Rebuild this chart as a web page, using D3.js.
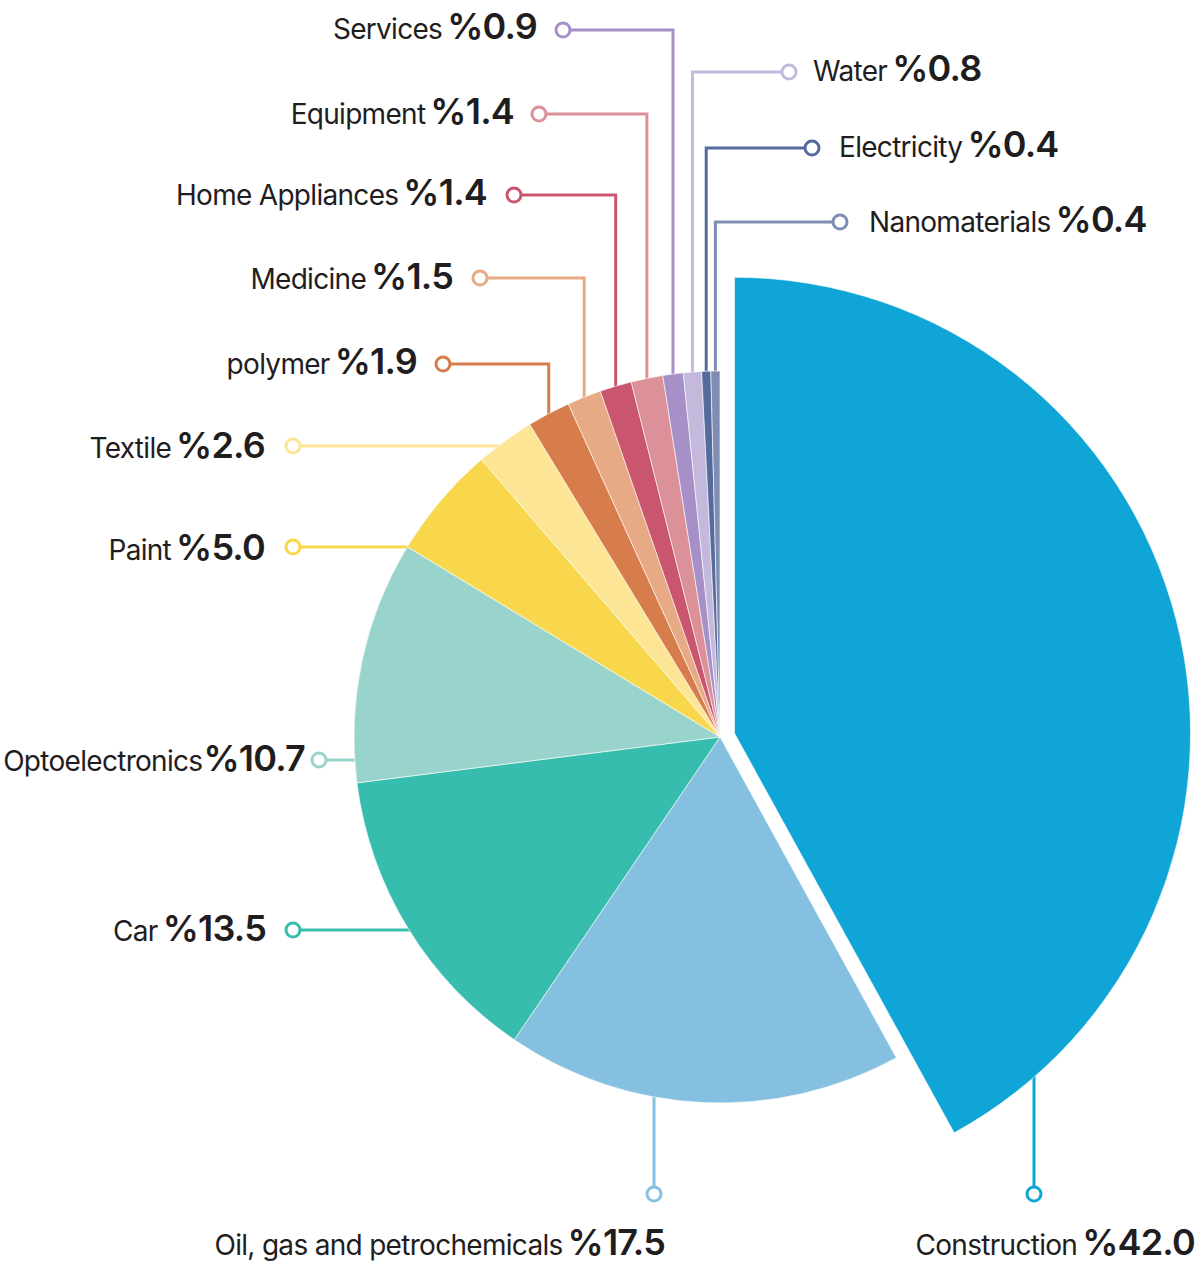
<!DOCTYPE html>
<html>
<head>
<meta charset="utf-8">
<script src="https://cdn.jsdelivr.net/npm/d3@7"></script>
<style>
  body { margin: 0; background: #fff; }
  svg { display: block; }
</style>
</head>
<body>
<div id="chart"></div>
<script>
  // Shares of each sector, clockwise from 12 o'clock
  var categories = ["Construction", "Oil, gas and petrochemicals", "Car", "Optoelectronics", "Paint",
    "Textile", "polymer", "Medicine", "Home Appliances", "Equipment", "Services", "Water",
    "Electricity", "Nanomaterials"];
  var values = [42.0, 17.5, 13.5, 10.7, 5.0, 2.6, 1.9, 1.5, 1.4, 1.4, 0.9, 0.8, 0.4, 0.4];
  var colors = ["#0fa5d6", "#86c0e1", "#37bdad", "#98d4cb", "#f9d74c", "#fce595", "#d67d4b",
    "#e8aa84", "#c9566e", "#dc9199", "#a690c7", "#c4b9dc", "#556b9e", "#808db3"];

  // Label placement: circle marker, text anchor, and how the leader reaches the pie
  // kind: "elbow" = across then down to slice middle, "h" = straight across, "v" = straight up
  var labelLayout = [
    { cx: 1034, cy: 1194, tx: 1195, ty: 1255, anchor: "end", kind: "v", gap: 5 },
    { cx: 654, cy: 1194, tx: 665, ty: 1255, anchor: "end", kind: "v", gap: 5 },
    { cx: 293, cy: 930, tx: 266, ty: 941, anchor: "end", kind: "h", gap: 5 },
    { cx: 319, cy: 760, tx: 305, ty: 771, anchor: "end", kind: "h", gap: 1 },
    { cx: 293, cy: 547, tx: 265, ty: 560, anchor: "end", kind: "h", gap: 5 },
    { cx: 293, cy: 446, tx: 265, ty: 458, anchor: "end", kind: "h", gap: 5 },
    { cx: 443, cy: 364, tx: 417, ty: 374, anchor: "end", kind: "elbow", gap: 5 },
    { cx: 480, cy: 278, tx: 453, ty: 289, anchor: "end", kind: "elbow", gap: 5 },
    { cx: 514, cy: 195, tx: 487, ty: 205, anchor: "end", kind: "elbow", gap: 5 },
    { cx: 539, cy: 114, tx: 514, ty: 124, anchor: "end", kind: "elbow", gap: 5 },
    { cx: 563, cy: 30, tx: 537, ty: 39, anchor: "end", kind: "elbow", gap: 5 },
    { cx: 789, cy: 72, tx: 813, ty: 81, anchor: "start", kind: "elbow", gap: 5 },
    { cx: 812, cy: 148, tx: 839, ty: 157, anchor: "start", kind: "elbow", gap: 5 },
    { cx: 840, cy: 222, tx: 869, ty: 232, anchor: "start", kind: "elbow", gap: 5 }
  ];

  var width = 1204;
  var height = 1264;
  var cx = 720, cy = 737;
  var radius = 366;
  var bigRadius = 456;   // exploded construction slice is drawn larger
  var explode = 15;

  var svg = d3.select("#chart")
    .append("svg")
    .attr("width", width)
    .attr("height", height);

  var pie = d3.pie().sort(null).value(function(d) { return d; });
  var arcs = pie(values);

  var arc = d3.arc().innerRadius(0).outerRadius(function(d, i) {
    return i === 0 ? bigRadius : radius;
  });

  function offset(d, i) {
    if (i !== 0) return [0, 0];
    var a = (d.startAngle + d.endAngle) / 2;
    return [explode * Math.sin(a), -explode * Math.cos(a)];
  }

  // leader lines (drawn under the pie so they tuck into the slices)
  var leaders = svg.append("g");
  arcs.forEach(function(d, i) {
    var L = labelLayout[i];
    var pts;
    var off = offset(d, i);
    var r = i === 0 ? bigRadius : radius;
    var px = cx + off[0], py = cy + off[1];
    if (L.kind === "v") {
      var dy = Math.sqrt(r * r - (L.cx - px) * (L.cx - px));
      pts = [[L.cx, L.cy], [L.cx, py + dy - 3]];
    } else if (L.kind === "h") {
      var dx = Math.sqrt(r * r - (L.cy - py) * (L.cy - py));
      pts = [[L.cx, L.cy], [px - dx + 3, L.cy]];
    } else {
      var mid = (d.startAngle + d.endAngle) / 2;
      var ex = px + r * Math.sin(mid);
      var ey = py - r * Math.cos(mid);
      pts = [[L.cx, L.cy], [ex, L.cy], [ex, ey + 3]];
    }
    leaders.append("path")
      .attr("d", d3.line()(pts))
      .attr("fill", "none")
      .attr("stroke", colors[i])
      .attr("stroke-width", 3);
  });

  // slices
  svg.append("g")
    .selectAll("path")
    .data(arcs)
    .enter()
    .append("path")
    .attr("transform", function(d, i) {
      var o = offset(d, i);
      return "translate(" + (cx + o[0]) + "," + (cy + o[1]) + ")";
    })
    .attr("d", arc)
    .attr("fill", function(d, i) { return colors[i]; })
    .attr("stroke", "#fff")
    .attr("stroke-width", 0.6);

  // marker circles
  svg.append("g")
    .selectAll("circle")
    .data(labelLayout)
    .enter()
    .append("circle")
    .attr("cx", function(d) { return d.cx; })
    .attr("cy", function(d) { return d.cy; })
    .attr("r", 7)
    .attr("fill", "#fff")
    .attr("stroke", function(d, i) { return colors[i]; })
    .attr("stroke-width", 3);

  // label text: name + bold share
  var labels = svg.append("g")
    .attr("font-family", "Inter, 'Noto Sans', sans-serif")
    .attr("fill", "#1f1d1e")
    .selectAll("text")
    .data(labelLayout)
    .enter()
    .append("text")
    .attr("x", function(d) { return d.tx; })
    .attr("y", function(d) { return d.ty; })
    .attr("text-anchor", function(d) { return d.anchor; });

  labels.append("tspan")
    .attr("font-size", "28px")
    .attr("letter-spacing", "-0.7px")
    .text(function(d, i) { return categories[i]; });

  labels.append("tspan")
    .attr("dx", function(d) { return d.gap; })
    .attr("font-size", "36px")
    .attr("font-weight", 600)
    .attr("letter-spacing", "-0.8px")
    .text(function(d, i) { return "%" + values[i].toFixed(1); });
</script>
</body>
</html>
